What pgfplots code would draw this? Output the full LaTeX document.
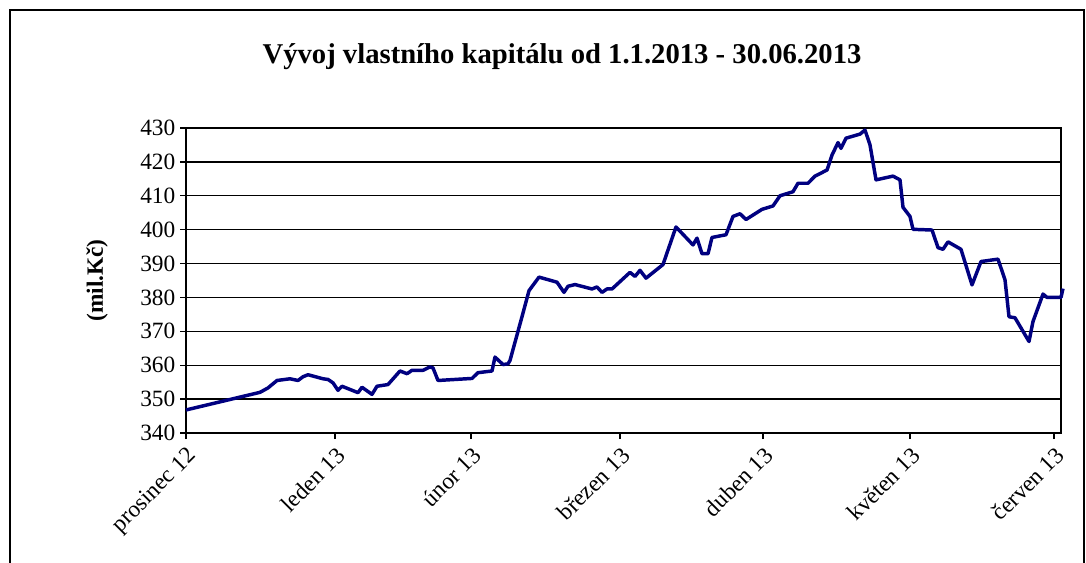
\documentclass[border=0pt]{standalone}
\usepackage{pgfplots}
\pgfplotsset{compat=1.18}
\usepackage{fontspec}
\setmainfont{Liberation Serif}
\definecolor{navyline}{RGB}{0,0,128}

\pgfplotstableread{
x y
0 346.8
74 352.0
82 353.3
91 355.5
104 356.0
112 355.5
117 356.6
122 357.2
137 356.0
142 355.8
147 354.8
152 352.6
156 353.8
172 351.9
176 353.5
186 351.4
191 353.8
202 354.3
214 358.3
221 357.5
226 358.5
237 358.5
244 359.5
247 359.2
252 355.5
286 356.1
292 357.8
306 358.3
309 362.4
317 360.2
322 360.4
324 361.4
337 375.4
343 382.0
353 386.0
371 384.5
378 381.5
382 383.3
389 383.8
406 382.5
411 383.1
416 381.5
421 382.5
426 382.5
444 387.4
449 386.2
454 388.0
460 385.7
477 389.7
482 394.0
490 400.8
507 395.5
511 397.5
516 392.9
522 392.9
526 397.7
540 398.5
547 403.9
554 404.7
560 403.0
576 406.0
587 407.0
594 410.0
607 411.2
612 413.7
622 413.7
629 415.8
641 417.6
646 422.0
652 425.7
655 424.0
660 427.0
674 428.2
679 429.4
684 425.0
690 414.7
707 415.8
714 414.7
717 406.6
724 403.9
727 400.1
746 399.9
752 394.7
757 394.2
762 396.4
775 394.2
786 383.7
795 390.6
812 391.3
819 385.2
823 374.3
829 374.0
843 367.0
847 372.9
857 381.0
861 380.0
875 380.0
877 382.6
}\equity

\begin{document}
\begin{tikzpicture}
\path[use as bounding box] (0,0) rectangle (814.5pt,421.5pt);
\draw[line width=1.2pt] (7.5pt,-10pt) rectangle (813pt,414pt);
\node[font=\bfseries\fontsize{21.5}{24}\selectfont] at (421.5pt,378.75pt) {Vývoj vlastního kapitálu od 1.1.2013 - 30.06.2013};
\begin{axis}[
  at={(139.5pt,96.75pt)}, anchor=south west,
  scale only axis, width=656.25pt, height=228.75pt,
  xmin=0, xmax=875, ymin=340, ymax=430,
  clip=false,
  ytick={340,350,...,430},
  xtick={0,149,285,434,577,724,868},
  xticklabels={prosinec 12,leden 13,únor 13,březen 13,duben 13,květen 13,červen 13},
  xtick pos=bottom, ytick pos=left,
  ymajorgrids,
  grid style={black, line width=1pt},
  axis line style={black, line width=1.2pt},
  tick style={black, line width=1pt},
  tick align=outside,
  major tick length=4.5pt,
  ticklabel style={font=\fontsize{17.5}{20}\selectfont},
  /pgf/number format/assume math mode=true,
  xticklabel style={rotate=45, anchor=north east},
  ylabel={(mil.Kč)},
  every axis y label/.style={at={(axis description cs:-0.1017,0.5)}, rotate=90, anchor=center, font=\bfseries\fontsize{17.5}{20}\selectfont},
]
\addplot[navyline, line width=2.6pt, line join=round] table[x=x,y=y] {\equity};
\end{axis}
\end{tikzpicture}
\end{document}
